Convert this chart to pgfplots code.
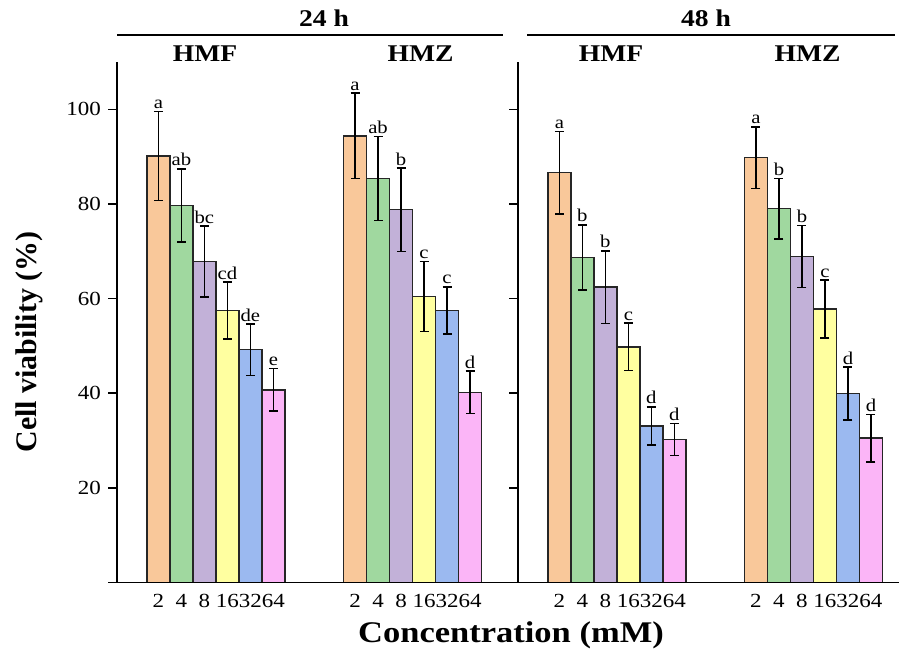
\documentclass[border=0pt]{standalone}
\usepackage{pgfplots}
\pgfplotsset{compat=1.18}
\usepackage{fontspec}
\setmainfont{Liberation Serif}[FakeStretch=1.15]

\definecolor{cA}{RGB}{249,200,154}
\definecolor{cB}{RGB}{160,216,159}
\definecolor{cC}{RGB}{194,177,216}
\definecolor{cD}{RGB}{255,255,160}
\definecolor{cE}{RGB}{155,185,240}
\definecolor{cF}{RGB}{251,181,247}

\newcommand{\lab}[3]{\node[anchor=south,inner sep=1.2pt,font=\fontsize{9}{10}\selectfont] at (axis cs:#1,#2) {#3};}

\pgfplotsset{
  panel/.style={
    scale only axis, height=260.25pt,
    ymin=0, ymax=110, xmin=0,
    axis x line*=bottom, axis y line*=left,
    ytick={20,40,60,80,100},
    tick align=outside, major tick length=4.5pt,
    axis line style={line width=0.75pt},
    y tick style={line width=0.75pt, black},
    xtick={1.8,2.8,3.8,4.8,5.8,6.8,10.35,11.35,12.35,13.35,14.35,15.35},
    xticklabels={2,4,8,16,32,64,2,4,8,16,32,64},
    x tick style={draw=none},
    xticklabel style={yshift=2pt},
    tick label style={font=\fontsize{10}{12}\selectfont},
    /pgf/number format/assume math mode=true,
    ybar, bar width=1, bar shift=0pt, clip=false,
    every axis plot/.append style={draw=black!85, line width=0.75pt, bar shift=0pt,
      error bars/y dir=both, error bars/y explicit,
      error bars/error mark=-,
      error bars/error bar style={line width=0.75pt, black},
      error bars/error mark options={rotate=90, mark size=2.25pt, line width=0.75pt, black}},
  }
}

\begin{document}
\begin{tikzpicture}
\useasboundingbox (0,0) rectangle (449.5pt,327.5pt);

% 24 h
\begin{axis}[panel, at={(58.5pt,36.25pt)}, anchor=south west, width=200pt, xmax=17.39]
\addplot[fill=cA] coordinates {(1.8,90.1) +- (0,9.4) (10.35,94.4) +- (0,9.0)};
\addplot[fill=cB] coordinates {(2.8,79.7) +- (0,7.7) (11.35,85.4) +- (0,8.9)};
\addplot[fill=cC] coordinates {(3.8,67.8) +- (0,7.5) (12.35,78.8) +- (0,8.8)};
\addplot[fill=cD] coordinates {(4.8,57.5) +- (0,6.0) (13.35,60.4) +- (0,7.4)};
\addplot[fill=cE] coordinates {(5.8,49.2) +- (0,5.4) (14.35,57.5) +- (0,5.0)};
\addplot[fill=cF] coordinates {(6.8,40.7) +- (0,4.5) (15.35,40.2) +- (0,4.5)};
\draw[line width=0.75pt] (rel axis cs:0,0) ++(-4.5pt,0) -- (rel axis cs:1,0);
\lab{1.8}{99.5}{a} \lab{2.8}{87.4}{ab} \lab{3.8}{75.3}{bc}
\lab{4.8}{63.5}{cd} \lab{5.8}{54.6}{de} \lab{6.8}{45.2}{e}
\lab{10.35}{103.4}{a} \lab{11.35}{94.3}{ab} \lab{12.35}{87.6}{b}
\lab{13.35}{67.8}{c} \lab{14.35}{62.5}{c} \lab{15.35}{44.7}{d}
\end{axis}

% 48 h
\begin{axis}[panel, at={(259pt,36.25pt)}, anchor=south west, width=190.5pt, xmax=16.57, yticklabels={}]
\addplot[fill=cA] coordinates {(1.8,86.6) +- (0,8.7) (10.35,89.8) +- (0,6.5)};
\addplot[fill=cB] coordinates {(2.8,68.7) +- (0,6.9) (11.35,79.0) +- (0,6.4)};
\addplot[fill=cC] coordinates {(3.8,62.4) +- (0,7.7) (12.35,68.9) +- (0,6.6)};
\addplot[fill=cD] coordinates {(4.8,49.8) +- (0,5.0) (13.35,57.8) +- (0,6.1)};
\addplot[fill=cE] coordinates {(5.8,33.1) +- (0,4.0) (14.35,39.9) +- (0,5.6)};
\addplot[fill=cF] coordinates {(6.8,30.2) +- (0,3.4) (15.35,30.5) +- (0,5.0)};
\draw[line width=0.75pt] (rel axis cs:0,0) ++(-4.5pt,0) -- (rel axis cs:1,0);
\lab{1.8}{95.3}{a} \lab{2.8}{75.6}{b} \lab{3.8}{70.1}{b}
\lab{4.8}{54.8}{c} \lab{5.8}{37.1}{d} \lab{6.8}{33.6}{d}
\lab{10.35}{96.3}{a} \lab{11.35}{85.4}{b} \lab{12.35}{75.5}{b}
\lab{13.35}{63.9}{c} \lab{14.35}{45.5}{d} \lab{15.35}{35.5}{d}
\end{axis}

% headers
\node[anchor=base, font=\bfseries\fontsize{12}{14}\selectfont] at (162pt,314pt) {24 h};
\node[anchor=base, font=\bfseries\fontsize{12}{14}\selectfont] at (353pt,314pt) {48 h};
\draw[line width=0.75pt] (58.5pt,310pt) -- (251.5pt,310pt);
\draw[line width=0.75pt] (263.5pt,310pt) -- (447.5pt,310pt);
\node[anchor=base, font=\bfseries\fontsize{12}{14}\selectfont] at (102.5pt,296.5pt) {HMF};
\node[anchor=base, font=\bfseries\fontsize{12}{14}\selectfont] at (210.25pt,296.5pt) {HMZ};
\node[anchor=base, font=\bfseries\fontsize{12}{14}\selectfont] at (305.5pt,296.5pt) {HMF};
\node[anchor=base, font=\bfseries\fontsize{12}{14}\selectfont] at (403.75pt,296.5pt) {HMZ};

% axis titles
\node[anchor=base, font=\bfseries\fontsize{15}{17}\selectfont] at (255.5pt,6.5pt) {Concentration (mM)};
\node[rotate=90, font=\bfseries\fontsize{13}{15}\selectfont] at (14.5pt,156.5pt) {\scalebox{1}[1.15]{Cell viability (\%)}};
\end{tikzpicture}
\end{document}
